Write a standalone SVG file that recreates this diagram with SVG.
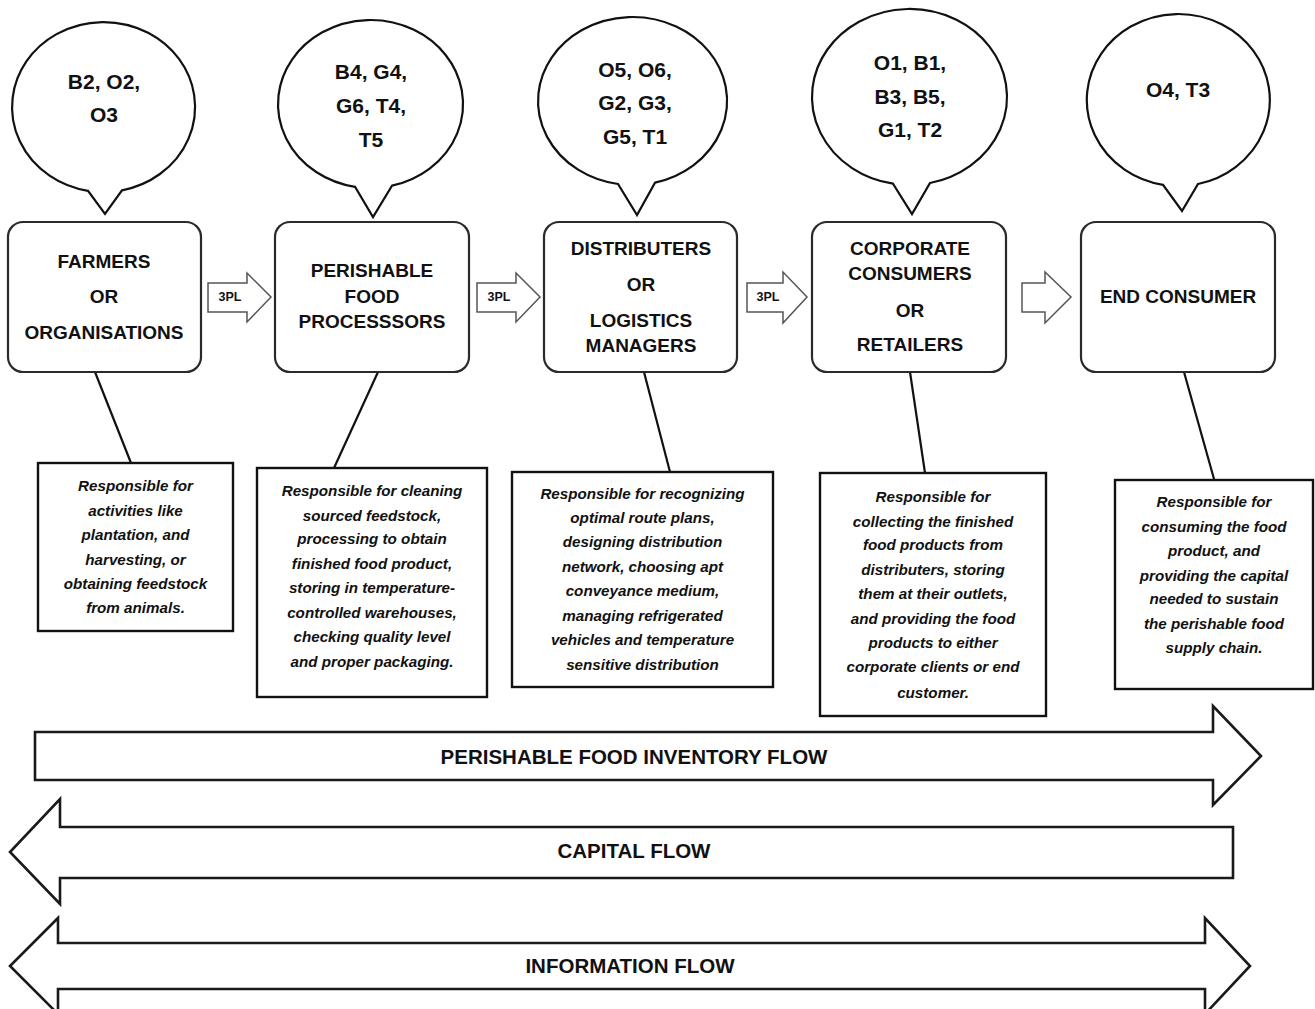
<svg xmlns="http://www.w3.org/2000/svg" width="1315" height="1009" viewBox="0 0 1315 1009">
<style>
.bg{fill:#ffffff}
.bubble{fill:#ffffff;stroke:#111;stroke-width:2.2;stroke-linejoin:miter}
.node{fill:#ffffff;stroke:#2a2a2a;stroke-width:2.2}
.desc{fill:#ffffff;stroke:#111;stroke-width:2.4}
.conn{stroke:#111;stroke-width:2.2;fill:none}
.small{fill:#ffffff;stroke:#555;stroke-width:1.5}
.big{fill:#ffffff;stroke:#1a1a1a;stroke-width:2.6;stroke-linejoin:miter}
.bt{font-family:"Liberation Sans",Arial,sans-serif;font-weight:bold;font-size:21px;fill:#111;text-anchor:middle}
.nt{font-family:"Liberation Sans",Arial,sans-serif;font-weight:bold;font-size:19px;fill:#111;text-anchor:middle}
.dt{font-family:"Liberation Sans",Arial,sans-serif;font-weight:bold;font-style:italic;font-size:15.2px;fill:#111;text-anchor:middle}
.pl{font-family:"Liberation Sans",Arial,sans-serif;font-weight:bold;font-size:12.5px;fill:#111;text-anchor:middle}
.ft{font-family:"Liberation Sans",Arial,sans-serif;font-weight:bold;font-size:20.5px;fill:#111;text-anchor:middle}
</style>
<rect class="bg" x="0" y="0" width="1315" height="1009"/>

<g id="connectors">
<line class="conn" x1="95" y1="372" x2="131" y2="463"/>
<line class="conn" x1="378" y1="372" x2="334" y2="468"/>
<line class="conn" x1="644" y1="372" x2="670" y2="472"/>
<line class="conn" x1="910" y1="372" x2="925" y2="473"/>
<line class="conn" x1="1184" y1="372" x2="1214" y2="479"/>
<g id="arrow-3pl-1"><path class="small" d="M208,283 L247,283 L247,273 L271,297 L247,322 L247,312 L208,312 Z"/><text class="pl" x="230" y="301">3PL</text></g>
<g id="arrow-3pl-2"><path class="small" d="M477,283 L516,283 L516,273 L540,297 L516,322 L516,312 L477,312 Z"/><text class="pl" x="499" y="301">3PL</text></g>
<g id="arrow-3pl-3"><path class="small" d="M747,283 L783,283 L783,272 L807,297 L783,323 L783,312 L747,312 Z"/><text class="pl" x="768" y="301">3PL</text></g>
<g id="arrow-4"><path class="small" d="M1022,283 L1045,283 L1045,272 L1071,297 L1045,323 L1045,312 L1022,312 Z"/></g>
</g>

<g id="bubble-1"><path class="bubble" d="M122,190.3 A91.5 85 0 1 0 88,190.8 L105,214 Z"/><text class="bt" x="104" y="89">B2, O2,</text><text class="bt" x="104" y="122">O3</text></g>
<g id="bubble-2"><path class="bubble" d="M392,185.7 A92.5 84 0 1 0 355,186.8 L373,217 Z"/><text class="bt" x="371" y="79">B4, G4,</text><text class="bt" x="371" y="113">G6, T4,</text><text class="bt" x="371" y="147">T5</text></g>
<g id="bubble-3"><path class="bubble" d="M655,182.6 A94.5 84 0 1 0 618,184 L637,215 Z"/><text class="bt" x="635" y="77">O5, O6,</text><text class="bt" x="635" y="110">G2, G3,</text><text class="bt" x="635" y="144">G5, T1</text></g>
<g id="bubble-4"><path class="bubble" d="M930,183 A97.5 88 0 1 0 893,183.7 L912,214 Z"/><text class="bt" x="910" y="70">O1, B1,</text><text class="bt" x="910" y="104">B3, B5,</text><text class="bt" x="910" y="137">G1, T2</text></g>
<g id="bubble-5"><path class="bubble" d="M1198,184 A91.5 86 0 1 0 1163,184.8 L1182,211 Z"/><text class="bt" x="1178" y="97">O4, T3</text></g>

<g id="node-farmers"><rect class="node" x="8" y="222" width="193" height="150" rx="15"/><text class="nt" x="104" y="268">FARMERS</text><text class="nt" x="104" y="303">OR</text><text class="nt" x="104" y="339">ORGANISATIONS</text></g>
<g id="node-processors"><rect class="node" x="275" y="222" width="194" height="150" rx="15"/><text class="nt" x="372" y="277">PERISHABLE</text><text class="nt" x="372" y="303">FOOD</text><text class="nt" x="372" y="328">PROCESSSORS</text></g>
<g id="node-distributers"><rect class="node" x="544" y="222" width="193" height="150" rx="15"/><text class="nt" x="641" y="255">DISTRIBUTERS</text><text class="nt" x="641" y="291">OR</text><text class="nt" x="641" y="327">LOGISTICS</text><text class="nt" x="641" y="352">MANAGERS</text></g>
<g id="node-retailers"><rect class="node" x="812" y="222" width="194" height="150" rx="15"/><text class="nt" x="910" y="255">CORPORATE</text><text class="nt" x="910" y="280">CONSUMERS</text><text class="nt" x="910" y="317">OR</text><text class="nt" x="910" y="351">RETAILERS</text></g>
<g id="node-endconsumer"><rect class="node" x="1081" y="222" width="194" height="150" rx="15"/><text class="nt" x="1178" y="303">END CONSUMER</text></g>

<g id="desc-farmers"><rect class="desc" x="38" y="463" width="195" height="168"/>
<text class="dt" x="135.5" y="491">Responsible for</text>
<text class="dt" x="135.5" y="516">activities like</text>
<text class="dt" x="135.5" y="540">plantation, and</text>
<text class="dt" x="135.5" y="565">harvesting, or</text>
<text class="dt" x="135.5" y="589">obtaining feedstock</text>
<text class="dt" x="135.5" y="613">from animals.</text></g>

<g id="desc-processors"><rect class="desc" x="257" y="468" width="230" height="229"/>
<text class="dt" x="372" y="496">Responsible for cleaning</text>
<text class="dt" x="372" y="521">sourced feedstock,</text>
<text class="dt" x="372" y="544">processing to obtain</text>
<text class="dt" x="372" y="569">finished food product,</text>
<text class="dt" x="372" y="593">storing in temperature-</text>
<text class="dt" x="372" y="618">controlled warehouses,</text>
<text class="dt" x="372" y="642">checking quality level</text>
<text class="dt" x="372" y="667">and proper packaging.</text></g>

<g id="desc-distributers"><rect class="desc" x="512" y="472" width="261" height="215"/>
<text class="dt" x="642.5" y="499">Responsible for recognizing</text>
<text class="dt" x="642.5" y="523">optimal route plans,</text>
<text class="dt" x="642.5" y="547">designing distribution</text>
<text class="dt" x="642.5" y="572">network, choosing apt</text>
<text class="dt" x="642.5" y="596">conveyance medium,</text>
<text class="dt" x="642.5" y="621">managing refrigerated</text>
<text class="dt" x="642.5" y="645">vehicles and temperature</text>
<text class="dt" x="642.5" y="670">sensitive distribution</text></g>

<g id="desc-retailers"><rect class="desc" x="820" y="473" width="226" height="243"/>
<text class="dt" x="933" y="502">Responsible for</text>
<text class="dt" x="933" y="527">collecting the finished</text>
<text class="dt" x="933" y="550">food products from</text>
<text class="dt" x="933" y="575">distributers, storing</text>
<text class="dt" x="933" y="599">them at their outlets,</text>
<text class="dt" x="933" y="624">and providing the food</text>
<text class="dt" x="933" y="648">products to either</text>
<text class="dt" x="933" y="672">corporate clients or end</text>
<text class="dt" x="933" y="698">customer.</text></g>

<g id="desc-endconsumer"><rect class="desc" x="1115" y="480" width="198" height="209"/>
<text class="dt" x="1214" y="507">Responsible for</text>
<text class="dt" x="1214" y="532">consuming the food</text>
<text class="dt" x="1214" y="556">product, and</text>
<text class="dt" x="1214" y="581">providing the capital</text>
<text class="dt" x="1214" y="604">needed to sustain</text>
<text class="dt" x="1214" y="629">the perishable food</text>
<text class="dt" x="1214" y="653">supply chain.</text></g>

<g id="flow-inventory"><path class="big" d="M35,732 L1213,732 L1213,706 L1261,756 L1213,805 L1213,780 L35,780 Z"/><text class="ft" x="634" y="764">PERISHABLE FOOD INVENTORY FLOW</text></g>
<g id="flow-capital"><path class="big" d="M1233,827 L60,827 L60,799 L10,852 L60,904 L60,878 L1233,878 Z"/><text class="ft" x="634" y="858">CAPITAL FLOW</text></g>
<g id="flow-information"><path class="big" d="M58,943 L1205,943 L1205,918 L1250,966 L1205,1014 L1205,989 L58,989 L58,1014 L10,966 L58,918 Z"/><text class="ft" x="630" y="973">INFORMATION FLOW</text></g>
</svg>
